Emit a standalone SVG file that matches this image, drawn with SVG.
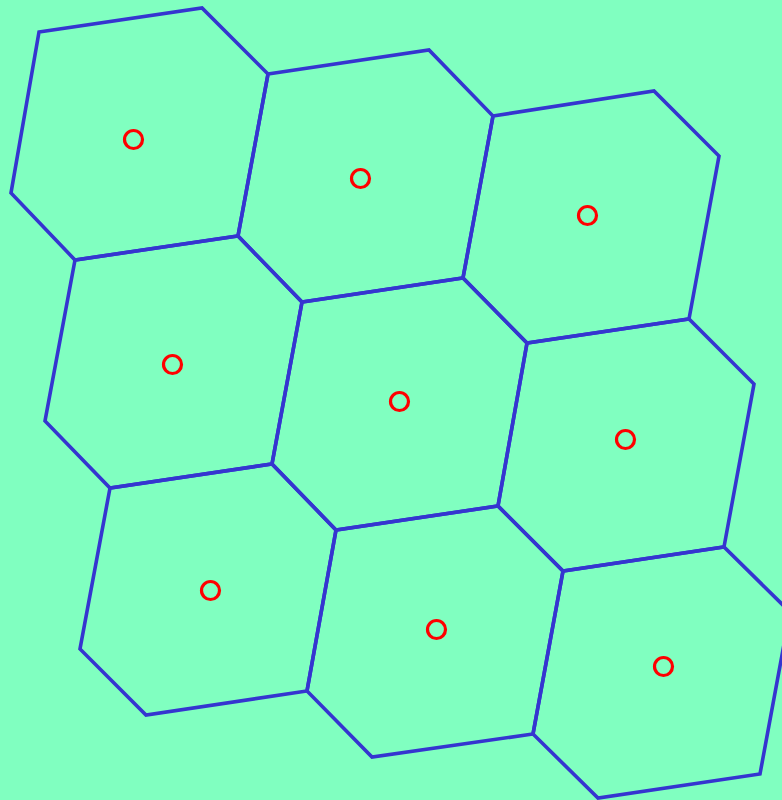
<svg xmlns="http://www.w3.org/2000/svg" width="782" height="800" viewBox="0 0 782 800">
<style>
.cell{fill:none;stroke:#3535d0;stroke-width:3.6;stroke-linejoin:miter}
.site{fill:none;stroke:#ff0000;stroke-width:3.2}
</style>
<rect width="782" height="800" fill="#80ffc0"/>
<g id="cell1"><polygon class="cell" points="39,32 202,8 268,74 238,236 75,260 11,193"/><circle class="site" cx="133.5" cy="139.5" r="9"/></g>
<g id="cell2"><polygon class="cell" points="268,74 429,50 493,116 463,278 302,302 238,236"/><circle class="site" cx="360.5" cy="178.5" r="9"/></g>
<g id="cell3"><polygon class="cell" points="493,116 654,91 719,156 689,319 527,343 463,278"/><circle class="site" cx="587.5" cy="215.5" r="9"/></g>
<g id="cell4"><polygon class="cell" points="75,260 238,236 302,302 272,464 110,488 45,421"/><circle class="site" cx="172.5" cy="364.5" r="9"/></g>
<g id="cell5"><polygon class="cell" points="302,302 463,278 527,343 498,506 336,530 272,464"/><circle class="site" cx="399.5" cy="401.5" r="9"/></g>
<g id="cell6"><polygon class="cell" points="527,343 689,319 754,384 724,547 563,571 498,506"/><circle class="site" cx="625.5" cy="439.5" r="9"/></g>
<g id="cell7"><polygon class="cell" points="110,488 272,464 336,530 307,691 146,715 80,649"/><circle class="site" cx="210.5" cy="590.5" r="9"/></g>
<g id="cell8"><polygon class="cell" points="336,530 498,506 563,571 533,734 372,757 307,691"/><circle class="site" cx="436.5" cy="629.5" r="9"/></g>
<g id="cell9"><polygon class="cell" points="563,571 724,547 790,612 760,774 598,798 533,734"/><circle class="site" cx="663.5" cy="666.5" r="9"/></g>
</svg>
